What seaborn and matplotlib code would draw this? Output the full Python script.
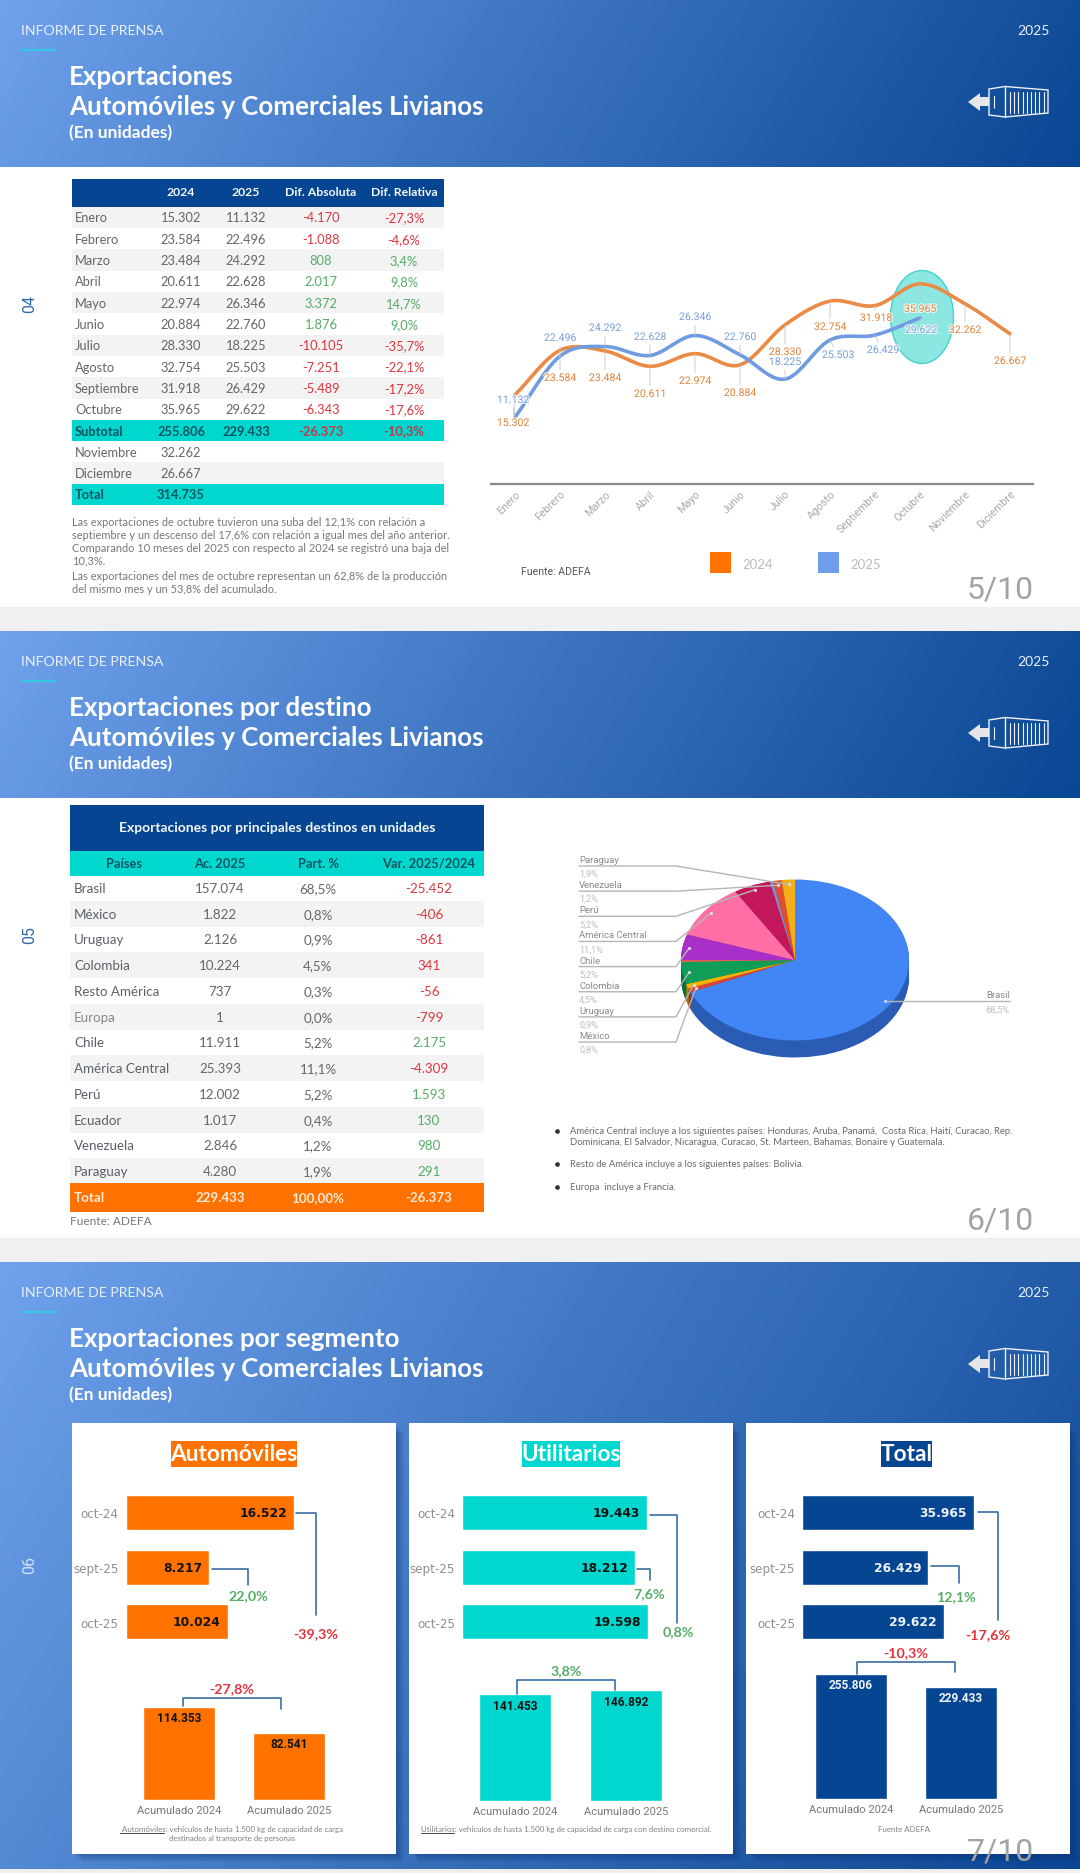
import numpy as np
import pandas as pd
import matplotlib
matplotlib.use("Agg")
import matplotlib.pyplot as plt
from matplotlib.patches import Rectangle, Ellipse, Polygon
from matplotlib.colors import LinearSegmentedColormap
import matplotlib.patheffects as pe
import seaborn as sns

# ---------------- data ----------------
months = ["Enero", "Febrero", "Marzo", "Abril", "Mayo", "Junio", "Julio", "Agosto", "Septiembre", "Octubre", "Noviembre", "Diciembre"]
exp_2024 = [15302, 23584, 23484, 20611, 22974, 20884, 28330, 32754, 31918, 35965, 32262, 26667]
exp_2025 = [11132, 22496, 24292, 22628, 26346, 22760, 18225, 25503, 26429, 29622]
dif_abs = [-4170, -1088, 808, 2017, 3372, 1876, -10105, -7251, -5489, -6343]
dif_rel = ["-27,3%", "-4,6%", "3,4%", "9,8%", "14,7%", "9,0%", "-35,7%", "-22,1%", "-17,2%", "-17,6%"]
sub_2024, sub_2025, sub_abs, sub_rel = 255806, 229433, -26373, "-10,3%"
tot_2024 = 314735
para1 = ["Las exportaciones de octubre tuvieron una suba del 12,1% con relación a",
         "septiembre y un descenso del 17,6% con relación a igual mes del año anterior.",
         "Comparando 10 meses del 2025 con respecto al 2024 se registró una baja del",
         "10,3%."]
para2 = ["Las exportaciones del mes de octubre representan un 62,8% de la producción",
         "del mismo mes y un 53,8% del acumulado."]

dest = ["Brasil", "México", "Uruguay", "Colombia", "Resto América", "Europa", "Chile", "América Central", "Perú", "Ecuador", "Venezuela", "Paraguay"]
dest_ac = [157074, 1822, 2126, 10224, 737, 1, 11911, 25393, 12002, 1017, 2846, 4280]
dest_part = ["68,5%", "0,8%", "0,9%", "4,5%", "0,3%", "0,0%", "5,2%", "11,1%", "5,2%", "0,4%", "1,2%", "1,9%"]
dest_var = [-25452, -406, -861, 341, -56, -799, 2175, -4309, 1593, 130, 980, 291]
dest_var_pos = [False, False, False, False, False, False, True, False, True, True, True, True]
pie_colors = ["#4285f4", "#db4437", "#f4b400", "#0f9d58", "#ff7043", "#ab47bc", "#a92fc9", "#ff6fa5", "#c2185b", "#7a8fd8", "#dc4f30", "#f4ae1a"]
pie_dark = ["#2b5cb4", "#9c2f26", "#b08200", "#0a6e3d", "#b04e2e", "#773182", "#762189", "#b34d73", "#87113f", "#556497", "#9a3722", "#aa7a12"]
pie_labels = ["Paraguay", "Venezuela", "Perú", "América Central", "Chile", "Colombia", "Uruguay", "México"]

periods = ["oct-24", "sept-25", "oct-25"]
acum_labels = ["Acumulado 2024", "Acumulado 2025"]
segments = ["Automóviles", "Utilitarios", "Total"]
seg_month = [[16522, 8217, 10024], [19443, 18212, 19598], [35965, 26429, 29622]]
seg_acum = [[114353, 82541], [141453, 146892], [255806, 229433]]
seg_pct_sep = ["22,0%", "7,6%", "12,1%"]
seg_pct_oct = ["-39,3%", "0,8%", "-17,6%"]
seg_pct_acum = ["-27,8%", "3,8%", "-10,3%"]

# ---------------- style ----------------
sns.set_theme(style="white")
plt.rcParams["font.family"] = ["Lato", "DejaVu Sans"]
W, H = 1080, 1874
NAVY, TEAL, ORANGE = "#064591", "#00d7cf", "#ff7200"
RED, GREEN, GRAY = "#e0353d", "#55ad66", "#666666"
BRK = "#3a6ea5"

fig = plt.figure(figsize=(W / 100, H / 100), dpi=100, facecolor="white")


def px_axes(l, t, r, b, z=2):
    ax = fig.add_axes([l / W, 1 - b / H, (r - l) / W, (b - t) / H], zorder=z)
    ax.patch.set_alpha(0)
    return ax


bg = px_axes(0, 0, W, H, z=0)
fg = px_axes(0, 0, W, H, z=10)
cmap = LinearSegmentedColormap.from_list("g", ["#6fa1ec", "#3a72be", "#0a4693"])


def gradient(y0, y1):
    h = y1 - y0
    xs, ys = np.meshgrid(np.linspace(0, W, 270), np.linspace(0, h, max(30, h // 4)))
    t = (xs + 0.6 * ys) / (W + 0.6 * h)
    bg.imshow(t, cmap=cmap, vmin=0, vmax=1, extent=(0, W, y1, y0), aspect="auto", zorder=1, interpolation="bilinear")


bg.add_patch(Rectangle((0, 608), W, 24, color="#f0f0f0", zorder=1))
bg.add_patch(Rectangle((0, 1239), W, 24, color="#f0f0f0", zorder=1))
bg.add_patch(Rectangle((0, 1870), W, 4, color="#eeeeee", zorder=1))
gradient(1, 168)
gradient(632, 799)
gradient(1263, 1870)


def T(x, y, s, size=9.5, color=GRAY, weight="normal", ha="left", va="center", family=None, ax=None, **kw):
    a = ax or fg
    return a.text(x, y, s, fontsize=size, color=color, fontweight=weight, ha=ha, va=va,
                  family=family or ["Lato", "DejaVu Sans"], **kw)


def R(x0, y0, x1, y1, c, z=2, a=bg, **kw):
    a.add_patch(Rectangle((x0, y0), x1 - x0, y1 - y0, facecolor=c, edgecolor="none", zorder=z, **kw))


def fmt(v):
    return f"{v:,}".replace(",", ".")


def icon(dy):
    c = "#eef2f6"
    fg.add_patch(Polygon([(968, 103 + dy), (980, 94 + dy), (980, 98 + dy), (989, 98 + dy), (989, 107 + dy), (980, 107 + dy), (980, 112 + dy)], color="#e6e6e6", lw=0))
    fg.add_patch(Polygon([(989, 90 + dy), (1005, 87.5 + dy), (1048, 91 + dy), (1048, 114 + dy), (1005, 118 + dy), (989, 116 + dy)], fill=False, edgecolor=c, lw=1))
    fg.plot([1005, 1005], [87.5 + dy, 118 + dy], color=c, lw=1)
    fg.plot([994, 994], [97 + dy, 109 + dy], color=c, lw=.8)
    for x in np.arange(1010, 1046, 4.2):
        fg.plot([x, x], [92.5 + dy, 113.5 + dy], color=c, lw=.8)


def header(dy, line1, page):
    T(21, 31 + dy, "INFORME DE PRENSA", size=10.2, color="#e8f0fb")
    T(1050, 31 + dy, "2025", size=10, color="#e8f0fb", ha="right")
    fg.plot([22, 55], [50.5 + dy, 50.5 + dy], color="#35c8e0", lw=1.6)
    T(69, 77 + dy, line1, size=18.6, color="white", weight="bold")
    T(69, 107 + dy, "Automóviles y Comerciales Livianos", size=18.6, color="white", weight="bold")
    T(69, 133 + dy, "(En unidades)", size=12.5, color="white", weight="bold")
    icon(dy)
    T(1034, 590 + dy, page, size=23, color="#a3a3a3", ha="right", family=["Roboto"])


header(0, "Exportaciones", "5/10")
header(631, "Exportaciones por destino", "6/10")
header(1262, "Exportaciones por segmento", "7/10")
T(30, 304, "04", size=11.5, color="#2f6aa8", rotation=90, ha="center", family=["Roboto"])
T(30, 935, "05", size=11.5, color="#2f6aa8", rotation=90, ha="center", family=["Roboto"])
T(30, 1565, "06", size=11.5, color="#d5e3f5", rotation=90, ha="center", family=["Roboto"])

# ---------------- table 04 ----------------
R(72, 180, 444, 208, NAVY)
for x, s in zip([181, 246, 321, 404], ["2024", "2025", "Dif. Absoluta", "Dif. Relativa"]):
    T(x, 193, s, size=8.8, color="#f4f7fb", weight="bold", ha="center")
STEP = 21.3
ROW0 = 218.5


def sign_color(v):
    return RED if v < 0 else GREEN


for i in range(10):
    y = ROW0 + i * STEP
    if i % 2 == 0:
        R(72, y - STEP / 2, 444, y + STEP / 2, "#f3f3f3")
    T(75, y, months[i], size=9.3)
    T(181, y, fmt(exp_2024[i]), size=9.3, ha="center")
    T(246, y, fmt(exp_2025[i]), size=9.3, ha="center")
    T(321, y, fmt(dif_abs[i]), size=9.3, ha="center", color=sign_color(dif_abs[i]))
    T(404, y, dif_rel[i], size=9.3, ha="center", color=sign_color(dif_abs[i]))
y = ROW0 + 10 * STEP
R(72, y - STEP / 2, 444, y + STEP / 2, TEAL)
T(75, y, "Subtotal", size=9.3, weight="bold", color="#0b5560")
T(181, y, fmt(sub_2024), size=9.3, weight="bold", ha="center", color="#0b5560")
T(246, y, fmt(sub_2025), size=9.3, weight="bold", ha="center", color="#0b5560")
T(321, y, fmt(sub_abs), size=9.3, weight="bold", ha="center", color="#c23a44")
T(404, y, sub_rel, size=9.3, weight="bold", ha="center", color="#c23a44")
for j in (10, 11):
    y = ROW0 + (j + 1) * STEP
    if j == 11:
        R(72, y - STEP / 2, 444, y + STEP / 2, "#f3f3f3")
    T(75, y, months[j], size=9.3)
    T(181, y, fmt(exp_2024[j]), size=9.3, ha="center")
y = ROW0 + 13 * STEP
R(72, y - STEP / 2, 444, y + STEP / 2, TEAL)
T(75, y, "Total", size=9.3, weight="bold", color="#0b5560")
T(181, y, fmt(tot_2024), size=9.3, weight="bold", ha="center", color="#0b5560")
for yy, s in zip([523, 536, 549, 561], para1):
    T(72, yy, s, size=7.95, color="#777777")
for yy, s in zip([577, 590], para2):
    T(72, yy, s, size=7.95, color="#777777")

# ---------------- line chart ----------------
PXV = 0.00537
Y0 = 478


def smooth(x, y, n=16):
    x, y = np.asarray(x, float), np.asarray(y, float)
    m = np.gradient(y, x)
    xs, ys = [], []
    for k in range(len(x) - 1):
        t = np.linspace(0, 1, n, endpoint=False)
        h00 = 2 * t**3 - 3 * t**2 + 1
        h10 = t**3 - 2 * t**2 + t
        h01 = -2 * t**3 + 3 * t**2
        h11 = t**3 - t**2
        xs.append(x[k] + t)
        ys.append(h00 * y[k] + h10 * m[k] + h01 * y[k + 1] + h11 * m[k + 1])
    return np.r_[np.concatenate(xs), x[-1]], np.r_[np.concatenate(ys), y[-1]]


bg.add_patch(Ellipse((922, 318), 63, 93, facecolor="#8ce6e1", edgecolor="#45d2cb", lw=1, zorder=3))
la = px_axes(491, 260, 1033, 485, z=3)
sns.despine(ax=la, left=True)
for name, vals, col in (("2024", exp_2024, "#ea8a45"), ("2025", exp_2025, "#6f9be0")):
    sx, sy = smooth(np.arange(len(vals)), vals)
    d = pd.DataFrame({"x": sx, "y": sy})
    sns.lineplot(data=d, x="x", y="y", ax=la, color=col, lw=2.6, estimator=None, sort=False, errorbar=None)
la.set_xlim(-0.533, 11.511)
la.set_ylim(-1303, 40596)
la.set_xlabel("")
la.set_ylabel("")
la.set_yticks([])
la.set_xticks(range(12))
la.set_xticklabels(months, rotation=45, ha="right", rotation_mode="anchor", fontsize=7.8, color="#aaaaaa", family=["Roboto"])
la.tick_params(axis="x", length=0, pad=3)
la.spines["bottom"].set_color("#888888")
la.spines["bottom"].set_linewidth(1.6)

label_y_2024 = [424, 379, 379, 395, 382, 394, 353, 328, 319, 310, 331, 362]
label_y_2025 = [401, 339, 329, 338, 318, 338, 363, 356, 351, 331]
label_dx_2024 = [-2, 0, 0, 0, 0, 0, 0, 0, 1, 0, 0, 0]
label_dx_2025 = [-2, 0, 0, 0, 0, 0, 0, 8, 8, 1]
for vals, ly, ldx, col in ((exp_2024, label_y_2024, label_dx_2024, "#e08a45"), (exp_2025, label_y_2025, label_dx_2025, "#7fa3dd")):
    for i, (v, yy, dx) in enumerate(zip(vals, ly, ldx)):
        py = Y0 - v * PXV
        la.annotate(fmt(v), (i, v), xytext=(dx, py - yy), textcoords="offset pixels", ha="center", va="center",
                    fontsize=7.6, color=col, family=["Roboto"], zorder=6,
                    arrowprops=dict(arrowstyle="-", color="#c4c4c4", lw=0.6, shrinkA=0, shrinkB=0),
                    path_effects=[pe.withStroke(linewidth=1.6, foreground="white", alpha=0.8)])
R(710, 553, 731, 574, ORANGE, z=3)
R(818, 553, 839, 574, "#6d9eeb", z=3)
T(742, 565, "2024", size=9.5, color="#bbbbbb")
T(850, 565, "2025", size=9.5, color="#bbbbbb")
T(521, 572, "Fuente: ADEFA", size=7.6, color="#555555", family=["Roboto"])

# ---------------- table 05 ----------------
R(70, 806, 484, 852, NAVY)
T(277, 828, "Exportaciones por principales destinos en unidades", size=10, color="#f2f6fb", weight="bold", ha="center")
R(70, 852, 484, 877, TEAL)
for x, s in zip([124, 220, 318, 429], ["Países", "Ac. 2025", "Part. %", "Var. 2025/2024"]):
    T(x, 864, s, size=9.3, color="#0b5560", weight="bold", ha="center")
DSTEP = 25.75
for i, nm in enumerate(dest):
    y = 889 + i * DSTEP
    if i % 2 == 1:
        R(70, y - DSTEP / 2, 484, y + DSTEP / 2, "#f3f3f3")
    T(74, y, nm, size=9.6, color="#5a6068" if nm != "Europa" else "#888888")
    T(220, y, fmt(dest_ac[i]), size=9.6, ha="center")
    T(318, y, dest_part[i], size=9.6, ha="center")
    T(429, y, fmt(dest_var[i]), size=9.6, ha="center", color=GREEN if dest_var_pos[i] else RED)
y = 889 + 12 * DSTEP
R(70, y - 14, 484, y + 15, ORANGE)
T(74, y, "Total", size=9.6, color="#fbe9d8", weight="bold")
T(220, y, fmt(sum(dest_ac)), size=9.6, color="#fbe9d8", weight="bold", ha="center")
T(318, y, "100,00%", size=9.6, color="#fbe9d8", weight="bold", ha="center")
T(429, y, fmt(sub_abs), size=9.6, color="#fbe9d8", weight="bold", ha="center")
T(70, 1222, "Fuente: ADEFA", size=8.6, color="#777777")

# ---------------- pie ----------------
CX, CY, RX, RY, DEPTH = 795, 961, 114, 80.5, 17
pa = px_axes(CX - RX, CY - RY, CX + RX, CY + RY + DEPTH, z=4)
unit = 1 / RY
for d in range(DEPTH, 0, -1):
    pa.pie(dest_ac, colors=pie_dark, center=(0, -d * unit), radius=1, startangle=90, counterclock=False,
           wedgeprops=dict(lw=0))
pa.pie(dest_ac, colors=pie_colors, radius=1, startangle=90, counterclock=False, wedgeprops=dict(lw=0))
pa.set_aspect("auto")
pa.set_xlim(-1, 1)
pa.set_ylim(-1 - DEPTH * unit, 1)
for p in pa.patches:
    p.set_clip_on(False)

cum = np.cumsum(dest_ac) / sum(dest_ac)
mid = (np.r_[0, cum[:-1]] + cum) / 2
slice_angle = dict(zip(dest, mid * 2 * np.pi))


def dot(name):
    th = slice_angle[name]
    return CX + 0.94 * RX * np.sin(th), CY - 0.94 * RY * np.cos(th)


for i, nm in enumerate(pie_labels):
    ly = 867 + i * 25.15
    dx, dy = dot(nm)
    fg.plot([579, 676, dx], [ly, ly, dy], color="#b5b5b5", lw=1)
    fg.plot([dx], [dy], "o", ms=1.2, color="#dcdcec")
    T(579, ly - 6.5, nm, size=6.8, color="#8a8a8a", family=["Roboto"])
    T(579, ly + 7.5, dest_part[dest.index(nm)], size=6.6, color="#bdbdbd", family=["Roboto"])
bx, by = dot("Brasil")
fg.plot([bx, 1010], [by, by], color="#b5b5b5", lw=1)
fg.plot([bx], [by], "o", ms=1.2, color="#c9d6f2")
T(1010, by - 6.5, "Brasil", size=6.8, color="#8a8a8a", ha="right", family=["Roboto"])
T(1010, by + 7.5, dest_part[0], size=6.6, color="#bdbdbd", ha="right", family=["Roboto"])

notes = [(1132, "América Central incluye a los siguientes países: Honduras, Aruba, Panamá,  Costa Rica, Haití, Curacao, Rep.", True),
         (1143, "Dominicana, El Salvador, Nicaragua, Curacao, St. Marteen, Bahamas, Bonaire y Guatemala.", False),
         (1165, "Resto de América incluye a los siguientes países: Bolivia.", True),
         (1188, "Europa  incluye a Francia.", True)]
for yy, s, b in notes:
    T(570, yy, s, size=6.82, color="#6a6a6a")
    if b:
        fg.plot([556.5], [yy], "o", ms=2.4, color="#333333")

# ---------------- segment cards ----------------
cards = [(72, 396), (409, 733), (746, 1070)]
for l, r in cards:
    for g in range(1, 9):
        R(l + 2 + g, 1426 + g, r + g, 1855 + g, "#0a2f66", z=2, alpha=0.05)
    R(l, 1424, r, 1855, "white", z=3)

title_box = [(171, 297, "white", ORANGE), (522, 620, "white", TEAL), (881, 932, "white", NAVY)]
bar_left = [125.5, 462, 802]
bar_scale = [0.0102, 0.00951, 0.00478]
bar_color = [ORANGE, TEAL, NAVY]
month_val_col = ["#141414", "#141414", "#eef3fa"]
col_centers = [(179, 289), (515, 626), (851, 961)]
col_bottom = [1801, 1802, 1800]
col_scale = [0.000813, 0.000757, 0.000489]
col_label_y = [(1719, 1745), (1707, 1703), (1686, 1699)]
br_oct = [(295.5, 316, 1514, 1616), (650, 677, 1516, 1624), (978, 998, 1513, 1621)]
br_sep = [(212, 248, 1570, 1586), (637, 650, 1570, 1581), (931, 959, 1567, 1584)]
oct_lab = [(316, 1634), (678, 1632), (988, 1635)]
sep_lab = [(248, 1596), (649, 1594), (956, 1597)]
br_acum = [(183, 281, 1707, 1699, 1710), (517, 615, 1695, 1681, 1691), (857, 955, 1675, 1663, 1673)]
acum_lab = [(232, 1689), (566, 1671), (906, 1653)]


def pct_color(s):
    return RED if s.startswith("-") else GREEN


for k, seg in enumerate(segments):
    x0, x1, tc, bc = title_box[k]
    R(x0, 1442, x1, 1468, bc, z=4)
    T((x0 + x1) / 2, 1455, seg, size=16.3, color=tc, weight="bold", ha="center")

    # monthly horizontal bars
    a = px_axes(bar_left[k], 1486.2, bar_left[k] + 260, 1650, z=4)
    dfm = pd.DataFrame({"periodo": periods, "valor": seg_month[k]})
    sns.barplot(data=dfm, y="periodo", x="valor", ax=a, color=bar_color[k], saturation=1, width=0.64, orient="h")
    a.set_xlim(0, 260 / bar_scale[k])
    a.set_xlabel("")
    a.set_ylabel("")
    a.set_xticks([])
    sns.despine(ax=a, left=True, bottom=True)
    a.tick_params(axis="y", length=0, pad=5)
    for t in a.get_yticklabels():
        t.set_fontsize(8.6)
        t.set_color("#8f8f8f")
        t.set_family(["DejaVu Sans"])
    for i, v in enumerate(seg_month[k]):
        a.annotate(fmt(v), (v, i), xytext=(-7, 0), textcoords="offset pixels", ha="right", va="center",
                   fontsize=8.8, fontweight="bold", color=month_val_col[k], family=["DejaVu Sans"])

    # accumulated vertical bars
    c0, c1 = col_centers[k]
    step = c1 - c0
    top = 1640
    a2 = px_axes(c0 - step / 2, top, c1 + step / 2, col_bottom[k], z=4)
    dfa = pd.DataFrame({"periodo": acum_labels, "valor": seg_acum[k]})
    sns.barplot(data=dfa, x="periodo", y="valor", ax=a2, color=bar_color[k], saturation=1, width=72 / step)
    a2.set_ylim(0, (col_bottom[k] - top) / col_scale[k])
    a2.set_xlabel("")
    a2.set_ylabel("")
    a2.set_yticks([])
    sns.despine(ax=a2, left=True, bottom=True)
    a2.tick_params(axis="x", length=0, pad=3.6)
    for t in a2.get_xticklabels():
        t.set_fontsize(8)
        t.set_color("#777777")
        t.set_family(["Roboto"])
    for i, v in enumerate(seg_acum[k]):
        T(col_centers[k][i], col_label_y[k][i], fmt(v), size=8.6, weight="bold", ha="center",
          color=month_val_col[k], family=["Roboto"])

    # brackets and percentages
    xa, xb, ya, yb = br_oct[k]
    fg.plot([xa, xb, xb], [ya, ya, yb], color=BRK, lw=1.2)
    xa, xb, ya, yb = br_sep[k]
    fg.plot([xa, xb, xb], [ya, ya, yb], color=BRK, lw=1.2)
    xa, xb, ya, ym, yb = br_acum[k]
    fg.plot([xa, xa, xb, xb], [ya, ym, ym, yb], color=BRK, lw=1.2)
    T(*oct_lab[k], seg_pct_oct[k], size=10.3, weight="bold", ha="center", color=pct_color(seg_pct_oct[k]))
    T(*sep_lab[k], seg_pct_sep[k], size=10.3, weight="bold", ha="center", color=pct_color(seg_pct_sep[k]))
    T(*acum_lab[k], seg_pct_acum[k], size=10.3, weight="bold", ha="center", color=pct_color(seg_pct_acum[k]))

T(232, 1830, "Automóviles: vehículos de hasta 1.500 kg de capacidad de carga", size=5.65, color="#808080", ha="center")
T(232, 1839, "destinados al transporte de personas", size=5.65, color="#808080", ha="center")
fg.plot([120, 164], [1834, 1834], color="#444444", lw=.7)
T(566, 1830, "Utilitarios: vehículos de hasta 1.500 kg de capacidad de carga con destino comercial.", size=5.65, color="#808080", ha="center")
fg.plot([421, 454], [1834, 1834], color="#444444", lw=.7)
T(904, 1830, "Fuente ADEFA", size=5.65, color="#808080", ha="center")

for ax_ in (bg, fg):
    ax_.set_xlim(0, W)
    ax_.set_ylim(H, 0)
    ax_.axis("off")

fig.savefig("out.png", dpi=100)
